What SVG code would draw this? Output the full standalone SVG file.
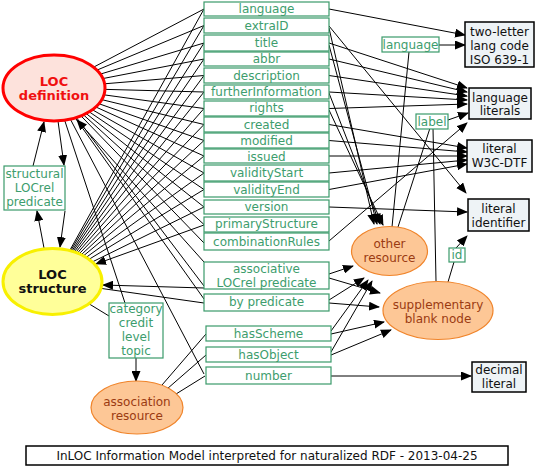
<svg xmlns="http://www.w3.org/2000/svg" width="536" height="468" viewBox="0 0 536 468">
<style>
.bx{fill:#fff;stroke:#3a9a6a;stroke-width:1.2}
.gt{fill:#3d9d6d;font-family:"DejaVu Sans",sans-serif;font-size:12px;text-anchor:middle}
.lit{fill:#eef3f6;stroke:#000;stroke-width:1.5}
.bt{fill:#111;font-family:"DejaVu Sans",sans-serif;font-size:12px;text-anchor:middle}
.ot{fill:#9b3b12;font-family:"DejaVu Sans",sans-serif;font-size:12px;text-anchor:middle}
.orn{fill:#fdc796;stroke:#f0842a;stroke-width:1.2}
.c line{stroke:#000;stroke-width:1;fill:none}
.c .a{marker-end:url(#ah)}
</style>
<defs>
<marker id="ah" markerUnits="userSpaceOnUse" markerWidth="11" markerHeight="9" refX="10" refY="4.5" orient="auto">
<path d="M0,0 L11,4.5 L0,9 z" fill="#000"/>
</marker>
</defs>
<rect x="0" y="0" width="536" height="468" fill="#fff"/>
<g id="connectors" class="c">
<line x1="54" y1="88" x2="204" y2="9"/>
<line x1="54" y1="88" x2="204" y2="25.5"/>
<line x1="54" y1="88" x2="204" y2="43"/>
<line x1="54" y1="88" x2="204" y2="59"/>
<line x1="54" y1="88" x2="204" y2="75.5"/>
<line x1="54" y1="88" x2="204" y2="92"/>
<line x1="54" y1="88" x2="204" y2="108.5"/>
<line x1="54" y1="88" x2="204" y2="124.5"/>
<line x1="54" y1="88" x2="204" y2="140.5"/>
<line x1="54" y1="88" x2="204" y2="156"/>
<line x1="54" y1="88" x2="204" y2="173"/>
<line x1="54" y1="88" x2="204" y2="189.5"/>
<line x1="54" y1="88" x2="204" y2="207"/>
<line x1="54" y1="88" x2="204" y2="224.5"/>
<line x1="54" y1="88" x2="204" y2="243"/>
<line x1="54" y1="88" x2="204" y2="286"/>
<line x1="54" y1="88" x2="204" y2="299"/>
<line x1="54" y1="88" x2="125" y2="303"/>
<line x1="54" y1="88" x2="204" y2="374"/>
<line x1="52.5" y1="281.5" x2="204" y2="9"/>
<line x1="52.5" y1="281.5" x2="204" y2="25.5"/>
<line x1="52.5" y1="281.5" x2="204" y2="43"/>
<line x1="52.5" y1="281.5" x2="204" y2="59"/>
<line x1="52.5" y1="281.5" x2="204" y2="75.5"/>
<line x1="52.5" y1="281.5" x2="204" y2="92"/>
<line x1="52.5" y1="281.5" x2="204" y2="108.5"/>
<line x1="52.5" y1="281.5" x2="204" y2="124.5"/>
<line x1="52.5" y1="281.5" x2="204" y2="140.5"/>
<line x1="52.5" y1="281.5" x2="204" y2="156"/>
<line x1="52.5" y1="281.5" x2="204" y2="173"/>
<line x1="52.5" y1="281.5" x2="204" y2="189.5"/>
<line x1="52.5" y1="281.5" x2="204" y2="207"/>
<line x1="52.5" y1="281.5" x2="204" y2="303"/>
<line x1="52.5" y1="281.5" x2="109" y2="316"/>
<line class="a" x1="204" y1="262" x2="77" y2="120"/>
<line class="a" x1="204" y1="225" x2="96" y2="264"/>
<line class="a" x1="204" y1="288" x2="103" y2="285"/>
<line class="a" x1="44" y1="248" x2="37" y2="211"/>
<line class="a" x1="33" y1="166" x2="44" y2="122"/>
<line class="a" x1="58" y1="121" x2="64" y2="165"/>
<line class="a" x1="65" y1="211" x2="60" y2="247"/>
<line class="a" x1="136" y1="358" x2="136" y2="381"/>
<line x1="162" y1="385" x2="206" y2="334"/>
<line x1="167" y1="389" x2="206" y2="355"/>
<line x1="176" y1="394" x2="205" y2="376"/>
<line class="a" x1="329" y1="9" x2="465" y2="35"/>
<line class="a" x1="329" y1="26" x2="466" y2="193"/>
<line class="a" x1="329" y1="43" x2="467" y2="88"/>
<line class="a" x1="329" y1="59" x2="467" y2="92"/>
<line class="a" x1="329" y1="75.5" x2="467" y2="96"/>
<line class="a" x1="329" y1="92" x2="467" y2="100"/>
<line class="a" x1="329" y1="108.5" x2="467" y2="104"/>
<line class="a" x1="329" y1="241" x2="467" y2="123"/>
<line class="a" x1="329" y1="124.5" x2="467" y2="148"/>
<line class="a" x1="329" y1="140.5" x2="467" y2="152"/>
<line class="a" x1="329" y1="156" x2="467" y2="156"/>
<line class="a" x1="329" y1="173" x2="467" y2="160"/>
<line class="a" x1="329" y1="189.5" x2="467" y2="164"/>
<line class="a" x1="329" y1="207" x2="467" y2="212"/>
<line class="a" x1="329" y1="28" x2="374" y2="224"/>
<line class="a" x1="329" y1="45" x2="377" y2="224"/>
<line class="a" x1="329" y1="93" x2="380" y2="224"/>
<line class="a" x1="329" y1="110" x2="383" y2="225"/>
<line x1="392" y1="227" x2="409" y2="52"/>
<line class="a" x1="439" y1="45" x2="465" y2="45"/>
<line x1="398" y1="227" x2="430" y2="128"/>
<line x1="436" y1="281" x2="433" y2="128"/>
<line class="a" x1="448" y1="120" x2="468" y2="113"/>
<line x1="448" y1="282" x2="454" y2="262"/>
<line class="a" x1="456" y1="248" x2="467" y2="236"/>
<line class="a" x1="329" y1="274" x2="353" y2="266"/>
<line class="a" x1="329" y1="278" x2="380" y2="293"/>
<line class="a" x1="329" y1="300" x2="364" y2="278"/>
<line class="a" x1="329" y1="303" x2="379" y2="307"/>
<line class="a" x1="331" y1="331" x2="368" y2="280"/>
<line class="a" x1="331" y1="334" x2="384" y2="322"/>
<line class="a" x1="331" y1="352" x2="372" y2="281"/>
<line class="a" x1="331" y1="355" x2="391" y2="330"/>
<line class="a" x1="331" y1="376" x2="471" y2="376"/>
</g>
<g id="loc-definition">
<ellipse cx="54" cy="88" rx="51" ry="33" fill="#fde2dc" stroke="#f00" stroke-width="3"/>
<text x="54" y="86" text-anchor="middle" font-family="DejaVu Sans, sans-serif" font-size="13" font-weight="bold" fill="#f01010">LOC</text>
<text x="54" y="100" text-anchor="middle" font-family="DejaVu Sans, sans-serif" font-size="13" font-weight="bold" fill="#f01010">definition</text>
</g>
<g id="loc-structure">
<ellipse cx="52.5" cy="281.5" rx="49.5" ry="33" fill="#ffff99" stroke="#f8f000" stroke-width="3"/>
<text x="52.5" y="279" text-anchor="middle" font-family="DejaVu Sans, sans-serif" font-size="13" font-weight="bold" fill="#111">LOC</text>
<text x="52.5" y="293" text-anchor="middle" font-family="DejaVu Sans, sans-serif" font-size="13" font-weight="bold" fill="#111">structure</text>
</g>
<g id="structural-locrel"><rect class="bx" x="4" y="166" width="61" height="44"/><text class="gt" x="34.5" y="178">structural</text><text class="gt" x="34.5" y="192">LOCrel</text><text class="gt" x="34.5" y="206">predicate</text></g>
<g id="p-language"><rect class="bx" x="204" y="2" width="125" height="14"/><text class="gt" x="266.5" y="13">language</text></g>
<g id="p-extraID"><rect class="bx" x="204" y="18" width="125" height="15"/><text class="gt" x="266.5" y="30">extraID</text></g>
<g id="p-title"><rect class="bx" x="204" y="35" width="125" height="16"/><text class="gt" x="266.5" y="47">title</text></g>
<g id="p-abbr"><rect class="bx" x="204" y="52" width="125" height="14"/><text class="gt" x="266.5" y="63">abbr</text></g>
<g id="p-description"><rect class="bx" x="204" y="68" width="125" height="15"/><text class="gt" x="266.5" y="80">description</text></g>
<g id="p-furtherInformation"><rect class="bx" x="204" y="85" width="125" height="14"/><text class="gt" x="266.5" y="96">furtherInformation</text></g>
<g id="p-rights"><rect class="bx" x="204" y="101" width="125" height="15"/><text class="gt" x="266.5" y="112">rights</text></g>
<g id="p-created"><rect class="bx" x="204" y="117" width="125" height="15"/><text class="gt" x="266.5" y="129">created</text></g>
<g id="p-modified"><rect class="bx" x="204" y="133" width="125" height="15"/><text class="gt" x="266.5" y="145">modified</text></g>
<g id="p-issued"><rect class="bx" x="204" y="149" width="125" height="14"/><text class="gt" x="266.5" y="161">issued</text></g>
<g id="p-validityStart"><rect class="bx" x="204" y="165" width="125" height="16"/><text class="gt" x="266.5" y="177">validityStart</text></g>
<g id="p-validityEnd"><rect class="bx" x="204" y="182" width="125" height="15"/><text class="gt" x="266.5" y="194">validityEnd</text></g>
<g id="p-version"><rect class="bx" x="204" y="200" width="125" height="14"/><text class="gt" x="266.5" y="211">version</text></g>
<g id="p-primaryStructure"><rect class="bx" x="204" y="217" width="125" height="15"/><text class="gt" x="266.5" y="228">primaryStructure</text></g>
<g id="p-combinationRules"><rect class="bx" x="204" y="233" width="125" height="17"/><text class="gt" x="266.5" y="246">combinationRules</text></g>
<g id="p-associative"><rect class="bx" x="204" y="262" width="125" height="27"/><text class="gt" x="266.5" y="273">associative</text><text class="gt" x="266.5" y="287">LOCrel predicate</text></g>
<g id="p-bypredicate"><rect class="bx" x="204" y="294" width="125" height="17"/><text class="gt" x="266.5" y="306">by predicate</text></g>
<g id="p-hasScheme"><rect class="bx" x="206" y="326" width="125" height="15"/><text class="gt" x="268.5" y="338">hasScheme</text></g>
<g id="p-hasObject"><rect class="bx" x="206" y="347" width="125" height="15"/><text class="gt" x="268.5" y="359">hasObject</text></g>
<g id="p-number"><rect class="bx" x="206" y="367" width="125" height="17"/><text class="gt" x="268.5" y="380">number</text></g>
<g id="category"><rect class="bx" x="109" y="303" width="54" height="55"/><text class="gt" x="136" y="313">category</text><text class="gt" x="136" y="327">credit</text><text class="gt" x="136" y="341">level</text><text class="gt" x="136" y="355">topic</text></g>
<g id="association-resource"><ellipse class="orn" cx="137" cy="407.5" rx="46" ry="26.5"/><text class="ot" x="137" y="406">association</text><text class="ot" x="137" y="420">resource</text></g>
<g id="other-resource"><ellipse class="orn" cx="389.5" cy="251" rx="38" ry="24.5"/><text class="ot" x="389.5" y="248">other</text><text class="ot" x="389.5" y="262">resource</text></g>
<g id="supplementary"><ellipse class="orn" cx="438" cy="310.5" rx="55" ry="29"/><text class="ot" x="438" y="309">supplementary</text><text class="ot" x="438" y="323">blank node</text></g>
<g id="l-language"><rect class="bx" x="382" y="37" width="57" height="15"/><text class="gt" x="410.5" y="49">language</text></g>
<g id="l-label"><rect class="bx" x="416" y="114" width="32" height="15"/><text class="gt" x="432" y="126">label</text></g>
<g id="l-id"><rect class="bx" x="449" y="248" width="16" height="14"/><text class="gt" x="457" y="259">id</text></g>
<g id="two-letter"><rect class="lit" x="465" y="22" width="69" height="45"/><text class="bt" x="499.5" y="36">two-letter</text><text class="bt" x="499.5" y="50">lang code</text><text class="bt" x="499.5" y="64">ISO 639-1</text></g>
<g id="language-literals"><rect class="lit" x="469" y="88" width="62" height="31"/><text class="bt" x="500" y="102">language</text><text class="bt" x="500" y="115">literals</text></g>
<g id="literal-w3c"><rect class="lit" x="467" y="140" width="65" height="32"/><text class="bt" x="499.5" y="153">literal</text><text class="bt" x="499.5" y="167">W3C-DTF</text></g>
<g id="literal-identifier"><rect class="lit" x="468" y="199" width="61" height="32"/><text class="bt" x="498.5" y="213">literal</text><text class="bt" x="498.5" y="227">identifier</text></g>
<g id="decimal-literal"><rect class="lit" x="472" y="362" width="54" height="30"/><text class="bt" x="499" y="374">decimal</text><text class="bt" x="499" y="388">literal</text></g>
<g id="caption"><rect x="26" y="446" width="482" height="19" fill="#fff" stroke="#000" stroke-width="1.5"/><text class="bt" x="267" y="460">InLOC Information Model interpreted for naturalized RDF - 2013-04-25</text></g>
</svg>
